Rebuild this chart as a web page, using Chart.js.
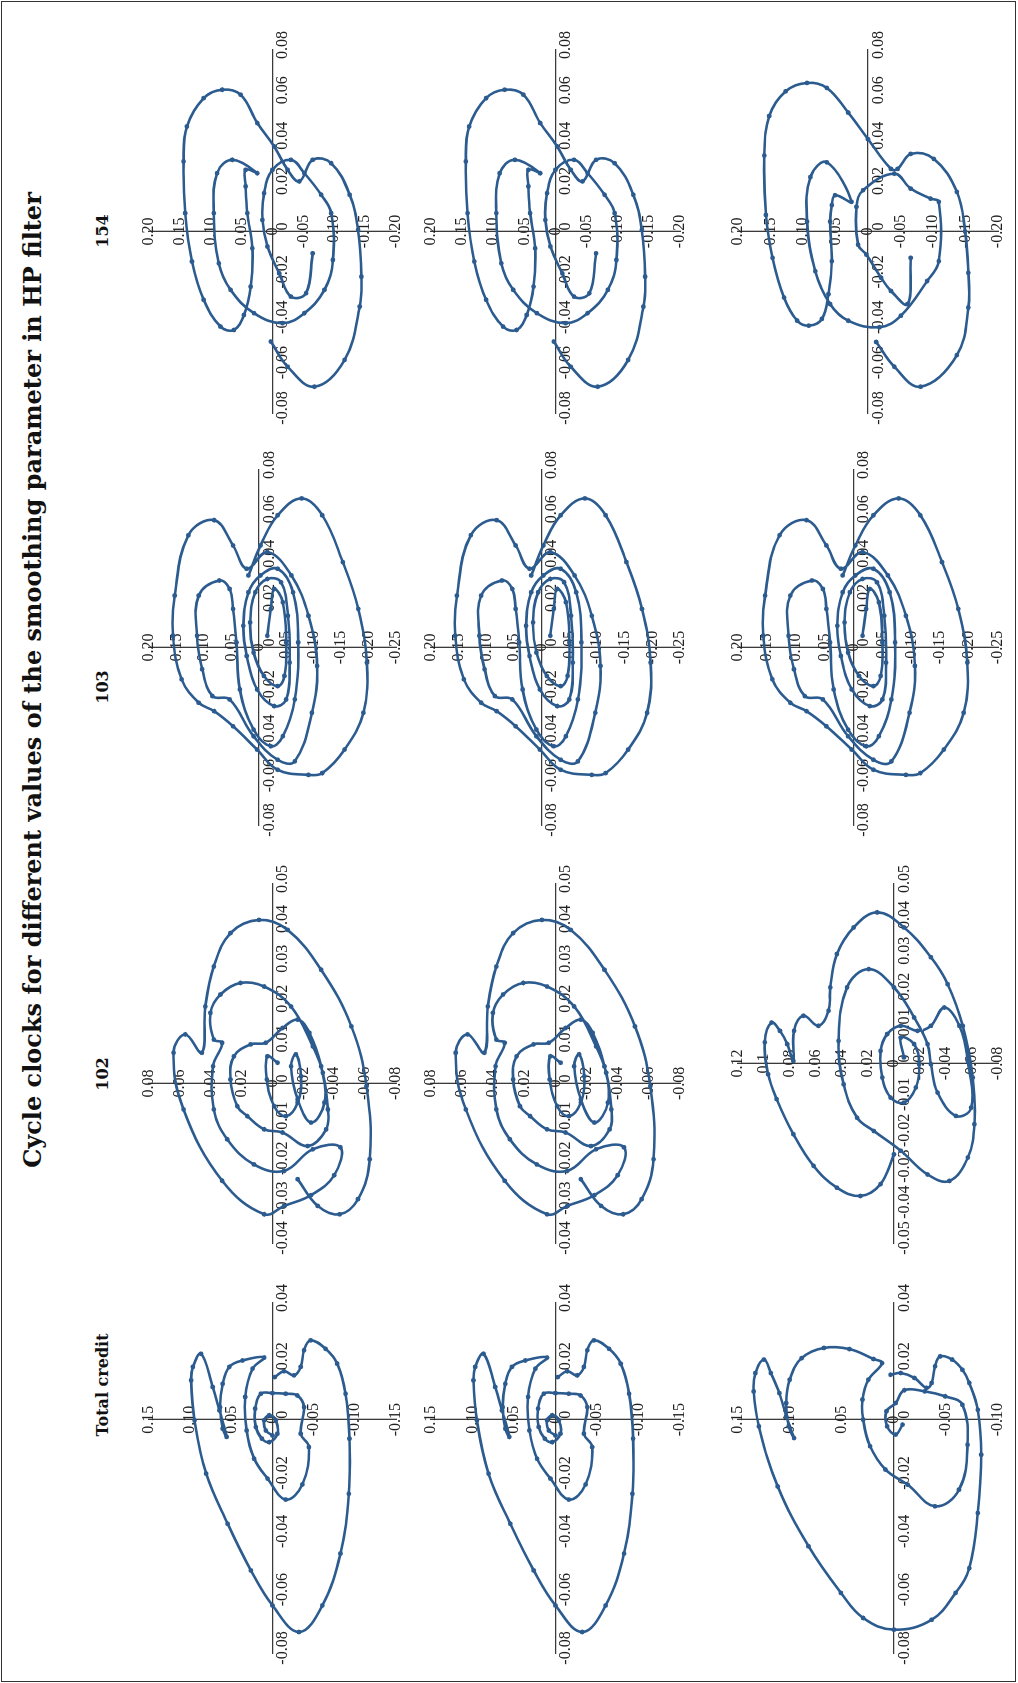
<!DOCTYPE html>
<html>
<head>
<meta charset="utf-8">
<script src="https://cdn.jsdelivr.net/npm/chart.js@4.4.1/dist/chart.umd.min.js"></script>
<style>
  html, body { margin: 0; padding: 0; background: #fff; overflow: hidden; }
  #page {
    position: absolute; left: 0; top: 0;
    width: 1683px; height: 1018px;
    transform-origin: 0 0;
    transform: translateY(1683px) rotate(-90deg);
    font-family: "DejaVu Serif", "Liberation Serif", serif;
    color: #111;
  }
  #frame { position: absolute; left: 1px; top: 1px; width: 1679px; height: 1013px; border: 1px solid #333; }
  .title { position: absolute; font-weight: bold; white-space: nowrap; transform: translate(-50%, -50%); }
  .panel { position: absolute; }
</style>
</head>
<body>
<div id="page">
  <div id="frame"></div>
  <div class="title" style="left:1003px; top:32px; font-size:24px;">Cycle clocks for different values of the smoothing parameter in HP filter</div>
  <div class="title" style="left:298px; top:102px; font-size:16px;">Total credit</div>
  <div class="title" style="left:609px; top:102px; font-size:16px;">102</div>
  <div class="title" style="left:996px; top:102px; font-size:16px;">103</div>
  <div class="title" style="left:1452px; top:102px; font-size:16px;">154</div>
</div>
<script>
// tick labels
const TC_X_TICKS = ['-0.08', '-0.06', '-0.04', '-0.02', '0', '0.02', '0.04'];
const TC_Y_TICKS = ['-0.15', '-0.10', '-0.05', '0', '0.05', '0.10', '0.15'];
const TC_Y_TICKS_3 = ['-0.10', '-0.05', '0', '0.05', '0.10', '0.15'];
const P102_X_TICKS = ['-0.04', '-0.03', '-0.02', '-0.01', '0', '0.01', '0.02', '0.03', '0.04', '0.05'];
const P102_X_TICKS_3 = ['-0.05', '-0.04', '-0.03', '-0.02', '-0.01', '0', '0.01', '0.02', '0.03', '0.04', '0.05'];
const P102_Y_TICKS = ['-0.08', '-0.06', '-0.04', '-0.02', '0', '0.02', '0.04', '0.06', '0.08'];
const P102_Y_TICKS_3 = ['-0.08', '-0.06', '-0.04', '-0.02', '0', '0.02', '0.04', '0.06', '0.08', '0.1', '0.12'];
const P103_X_TICKS = ['-0.08', '-0.06', '-0.04', '-0.02', '0', '0.02', '0.04', '0.06', '0.08'];
const P103_Y_TICKS = ['-0.25', '-0.20', '-0.15', '-0.10', '-0.05', '0', '0.05', '0.10', '0.15', '0.20'];
const P154_X_TICKS = ['-0.08', '-0.06', '-0.04', '-0.02', '0', '0.02', '0.04', '0.06', '0.08'];
const P154_Y_TICKS = ['-0.20', '-0.15', '-0.10', '-0.05', '0', '0.05', '0.10', '0.15', '0.20'];

// cycle clock paths, [x, y]
const totalCredit = [
  [-0.0054, 0], [-0.0037, 0.0081], [-0.0002, 0.0101], [0.0015, 0.0040], [-0.0002, -0.0040],
  [-0.0048, -0.0060], [-0.0077, 0.0040], [-0.0065, 0.0129], [-0.0025, 0.0202], [0.0038, 0.0210],
  [0.0089, 0.0141], [0.0091, 0], [0.0089, -0.0161], [0.0083, -0.0302], [0.0043, -0.0383],
  [-0.0048, -0.0343], [-0.0094, -0.0443], [-0.0222, -0.0363], [-0.0274, -0.0161], [-0.0202, 0.0060],
  [-0.0134, 0.0222], [-0.0037, 0.0314], [0.0078, 0.0331], [0.0175, 0.0242], [0.0213, 0.0101],
  [0.0203, 0.0363], [0.0181, 0.0524], [0.0123, 0.0605], [0.0043, 0.0637], [-0.0031, 0.0605],
  [-0.0059, 0.0556], [0.0032, 0.0645], [0.0112, 0.0726], [0.0226, 0.0867], [0.0181, 0.0967],
  [0.0135, 0.0988], [-0.0002, 0.0947], [-0.0185, 0.0806], [-0.0357, 0.0544], [-0.0517, 0.0262],
  [-0.0637, 0], [-0.0728, -0.0322], [-0.0637, -0.0605], [-0.0459, -0.0826], [-0.0254, -0.0927],
  [-0.0065, -0.0935], [0.0089, -0.0887], [0.0192, -0.0786], [0.0243, -0.0645], [0.0272, -0.0464],
  [0.0238, -0.0383], [0.0181, -0.0343], [0.0152, -0.0262], [0.0166, -0.0141], [0.0146, -0.0028]
];
const totalCredit3 = [
  [-0.0017, -0.0082], [-0.0051, -0.0016], [-0.0023, 0.0066], [0.0029, 0.0072], [0.0057, -0.0016],
  [0.0101, -0.0099], [0.0097, -0.0296], [0.0080, -0.0493], [0.0051, -0.0658], [-0.0086, -0.0707],
  [-0.0240, -0.0625], [-0.0297, -0.0395], [-0.0223, -0.0132], [-0.0171, 0.0082], [-0.0091, 0.0230],
  [0, 0.0296], [0.0069, 0.0303], [0.0137, 0.0247], [0.0194, 0.0115], [0.0208, 0.0197],
  [0.0242, 0.0428], [0.0246, 0.0674], [0.0211, 0.0888], [0.0137, 0.1003], [0.0057, 0.1036],
  [-0.0023, 0.1013], [-0.0063, 0.0961], [0.0011, 0.1036], [0.0091, 0.1102], [0.0160, 0.1184],
  [0.0206, 0.1250], [0.0160, 0.1332], [0.0097, 0.1349], [-0.0023, 0.1299], [-0.0229, 0.1118],
  [-0.0434, 0.0822], [-0.0594, 0.0510], [-0.0680, 0.0296], [-0.0720, 0], [-0.0686, -0.0362],
  [-0.0594, -0.0592], [-0.0509, -0.0724], [-0.0320, -0.0806], [-0.0120, -0.0839], [0.0034, -0.0806],
  [0.0126, -0.0724], [0.0171, -0.0658], [0.0206, -0.0559], [0.0217, -0.0444], [0.0183, -0.0395],
  [0.0126, -0.0362], [0.0109, -0.0313], [0.0143, -0.0197], [0.0160, -0.0066], [0.0154, 0.0033]
];
const hp102 = [
  [0.0052, -0.0033], [0.0068, 0.0033], [0.0010, 0.0037], [-0.0057, -0.0011], [-0.0082, -0.0087],
  [-0.0048, -0.0163], [0.0018, -0.0185], [0.0073, -0.0152], [0.0043, -0.0120], [-0.0040, -0.0163],
  [-0.0098, -0.0250], [-0.0048, -0.0337], [0.0043, -0.0315], [0.0127, -0.0239], [0.0160, -0.0163],
  [0.0139, -0.0065], [0.0102, 0.0043], [0.0098, 0.0141], [0.0068, 0.0250], [0.0010, 0.0272],
  [-0.0057, 0.0228], [-0.0082, 0.0163], [-0.0115, 0.0054], [-0.0123, -0.0065], [-0.0157, -0.0228],
  [-0.0115, -0.0348], [-0.0065, -0.0359], [0.0027, -0.0326], [0.0093, -0.0261], [0.0193, -0.0120],
  [0.0243, 0.0054], [0.0252, 0.0207], [0.0223, 0.0337], [0.0177, 0.0402], [0.0110, 0.0380],
  [0.0102, 0.0326], [0.0043, 0.0385], [-0.0065, 0.0380], [-0.0140, 0.0293], [-0.0203, 0.0120],
  [-0.0219, -0.0076], [-0.0165, -0.0261], [-0.0160, -0.0440], [-0.0230, -0.0400], [-0.0280, -0.0250],
  [-0.0307, -0.0076], [-0.0328, 0.0054], [-0.0244, 0.0326], [-0.0065, 0.0576], [0.0077, 0.0641],
  [0.0123, 0.0565], [0.0077, 0.0457], [0.0193, 0.0435], [0.0293, 0.0380], [0.0377, 0.0272],
  [0.0410, 0.0087], [0.0385, -0.0098], [0.0285, -0.0315], [0.0143, -0.0511], [-0.0007, -0.0609],
  [-0.0190, -0.0630], [-0.0290, -0.0554], [-0.0328, -0.0435], [-0.0307, -0.0293], [-0.0240, -0.0163]
];
const hp102r3 = [
  [0.0017, -0.0077], [0.0072, -0.0052], [0.0054, -0.0155], [-0.0002, -0.0194], [-0.0067, -0.0168],
  [-0.0109, -0.0077], [-0.0095, 0.0026], [-0.0039, 0.0090], [0.0035, 0.0103], [0.0082, 0.0052],
  [0.0105, -0.0052], [0.0091, -0.0181], [0.0105, -0.0284], [0.0156, -0.0387], [0.0105, -0.0503],
  [0.0007, -0.0568], [-0.0123, -0.0594], [-0.0146, -0.0477], [-0.0081, -0.0335], [-0.0002, -0.0284],
  [0.0054, -0.0258], [0.0128, -0.0155], [0.0212, 0], [0.0263, 0.0194], [0.0212, 0.0361],
  [0.0063, 0.0426], [-0.0058, 0.0387], [-0.0151, 0.0284], [-0.0188, 0.0155], [-0.0243, -0.0052],
  [-0.0309, -0.0258], [-0.0327, -0.0426], [-0.0262, -0.0568], [-0.0169, -0.0619], [-0.0039, -0.0606],
  [0.0105, -0.0529], [0.0221, -0.0413], [0.0296, -0.0284], [0.0379, -0.0077], [0.0421, 0.0129],
  [0.0379, 0.0310], [0.0305, 0.0439], [0.0212, 0.0490], [0.0147, 0.0503], [0.0105, 0.0581],
  [0.0133, 0.0697], [0.0091, 0.0769], [0.0007, 0.0774], [0.0054, 0.0821], [0.0091, 0.0877],
  [0.0114, 0.0942], [0.0059, 0.0994], [-0.0030, 0.0968], [-0.0099, 0.0903], [-0.0197, 0.0774],
  [-0.0285, 0.0619], [-0.0346, 0.0439], [-0.0369, 0.0258], [-0.0336, 0.0103], [-0.0253, 0]
];
const hp103 = [
  [0.0053, -0.0156], [0.0174, -0.0219], [0.0264, -0.0281], [0.0204, -0.0438], [0.0023, -0.0500],
  [-0.0128, -0.0469], [-0.0174, -0.0344], [-0.0128, -0.0094], [-0.0023, 0.0094], [0.0113, 0.0156],
  [0.0249, 0.0063], [0.0309, -0.0156], [0.0294, -0.0406], [0.0143, -0.0531], [-0.0068, -0.0563],
  [-0.0234, -0.0500], [-0.0264, -0.0281], [-0.0189, 0.0031], [-0.0038, 0.0219], [0.0098, 0.0281],
  [0.0249, 0.0188], [0.0325, -0.0031], [0.0355, -0.0344], [0.0249, -0.0625], [0.0023, -0.0719],
  [-0.0234, -0.0656], [-0.0400, -0.0438], [-0.0445, -0.0219], [-0.0370, 0.0094], [-0.0189, 0.0344],
  [0.0023, 0.0406], [0.0174, 0.0469], [0.0264, 0.0531], [0.0302, 0.0719], [0.0234, 0.1094],
  [0.0053, 0.1125], [-0.0098, 0.1031], [-0.0219, 0.0844], [-0.0234, 0.0531], [-0.0400, 0.0094],
  [-0.0506, -0.0344], [-0.0513, -0.0656], [-0.0294, -0.0969], [-0.0083, -0.1063], [0.0143, -0.0906],
  [0.0325, -0.0594], [0.0430, -0.0156], [0.0355, 0.0219], [0.0460, 0.0469], [0.0574, 0.0813],
  [0.0506, 0.1281], [0.0234, 0.1531], [0.0053, 0.1563], [-0.0143, 0.1406], [-0.0249, 0.1094],
  [-0.0287, 0.0813], [-0.0355, 0.0469], [-0.0460, 0.0031], [-0.0551, -0.0344], [-0.0574, -0.0906],
  [-0.0566, -0.1156], [-0.0460, -0.1563], [-0.0294, -0.1906], [-0.0068, -0.1969], [0.0174, -0.1813],
  [0.0385, -0.1531], [0.0596, -0.1156], [0.0672, -0.0781], [0.0596, -0.0344], [0.0460, -0.0031],
  [0.0325, 0.0188]
];
const hp154 = [
  [-0.0485, 0.0027], [-0.0596, -0.0245], [-0.0684, -0.0679], [-0.0566, -0.1168], [-0.0331, -0.1413],
  [-0.0199, -0.1440], [0.0007, -0.1386], [0.0162, -0.1250], [0.0301, -0.0951], [0.0316, -0.0652],
  [0.0221, -0.0435], [0.0272, -0.0245], [0.0375, -0.0027], [0.0478, 0.0245], [0.0603, 0.0516],
  [0.0625, 0.0815], [0.0588, 0.1114], [0.0463, 0.1386], [0.0309, 0.1440], [0.0081, 0.1413],
  [-0.0132, 0.1304], [-0.0301, 0.1114], [-0.0419, 0.0842], [-0.0434, 0.0625], [-0.0368, 0.0462],
  [-0.0243, 0.0353], [-0.0074, 0.0326], [0.0081, 0.0408], [0.0199, 0.0435], [0.0272, 0.0435],
  [0.0257, 0.0245], [0.0316, 0.0652], [0.0257, 0.0897], [0.0081, 0.0951], [-0.0140, 0.0870],
  [-0.0257, 0.0679], [-0.0360, 0.0299], [-0.0404, -0.0163], [-0.0360, -0.0516], [-0.0257, -0.0842],
  [-0.0125, -0.0978], [0.0081, -0.0951], [0.0162, -0.0788], [0.0257, -0.0516], [0.0316, -0.0299],
  [0.0272, 0], [0.0169, 0.0136], [0.0051, 0.0163], [-0.0066, 0.0082], [-0.0184, -0.0109],
  [-0.0287, -0.0299], [-0.0272, -0.0543], [-0.0096, -0.0652]
];
const hp154r3 = [
  [-0.0487, -0.0127], [-0.0596, -0.0405], [-0.0684, -0.0810], [-0.0545, -0.1367], [-0.0335, -0.1544],
  [-0.0182, -0.1544], [0, -0.1494], [0.0175, -0.1367], [0.0320, -0.1013], [0.0342, -0.0658],
  [0.0276, -0.0456], [0.0276, -0.0354], [0.0407, 0], [0.0524, 0.0304], [0.0633, 0.0633],
  [0.0655, 0.0937], [0.0618, 0.1266], [0.0509, 0.1519], [0.0335, 0.1595], [0.0073, 0.1570],
  [-0.0116, 0.1468], [-0.0291, 0.1291], [-0.0393, 0.1089], [-0.0415, 0.0911], [-0.0385, 0.0709],
  [-0.0276, 0.0608], [-0.0131, 0.0557], [0.0044, 0.0582], [0.0116, 0.0557], [0.0160, 0.0506],
  [0.0131, 0.0253], [0.0305, 0.0633], [0.0240, 0.0886], [0.0044, 0.0937], [-0.0175, 0.0810],
  [-0.0320, 0.0582], [-0.0393, 0.0304], [-0.0422, -0.0177], [-0.0371, -0.0506], [-0.0218, -0.0911],
  [-0.0131, -0.1089], [0.0131, -0.1089], [0.0145, -0.0962], [0.0189, -0.0658], [0.0255, -0.0405],
  [0.0182, 0.0076], [0.0109, 0.0177], [-0.0058, 0.0152], [-0.0102, 0.0025], [-0.0204, -0.0203],
  [-0.0262, -0.0354], [-0.0320, -0.0608], [-0.0116, -0.0658]
];

const LINE = '#2b5b8f';
const AXIS = '#3a3a3a';
const TICK_FONT = { family: '"Liberation Serif", serif', size: 16 };
const PAD = 30;

// plot-area placement (landscape page coordinates)
const COLS = { tc: [30, 380], c102: [440, 799], c103: [858, 1213], c154: [1270, 1633] };
const ROWS = [[149, 396], [431, 680], [738, 998]];

const panels = [
  { col: 'tc', row: 0, data: totalCredit, xt: TC_X_TICKS, yt: TC_Y_TICKS },
  { col: 'tc', row: 1, data: totalCredit, xt: TC_X_TICKS, yt: TC_Y_TICKS },
  { col: 'tc', row: 2, data: totalCredit3, xt: TC_X_TICKS, yt: TC_Y_TICKS_3 },
  { col: 'c102', row: 0, data: hp102, xt: P102_X_TICKS, yt: P102_Y_TICKS },
  { col: 'c102', row: 1, data: hp102, xt: P102_X_TICKS, yt: P102_Y_TICKS },
  { col: 'c102', row: 2, data: hp102r3, xt: P102_X_TICKS_3, yt: P102_Y_TICKS_3 },
  { col: 'c103', row: 0, data: hp103, xt: P103_X_TICKS, yt: P103_Y_TICKS },
  { col: 'c103', row: 1, data: hp103, xt: P103_X_TICKS, yt: P103_Y_TICKS },
  { col: 'c103', row: 2, data: hp103, xt: P103_X_TICKS, yt: P103_Y_TICKS },
  { col: 'c154', row: 0, data: hp154, xt: P154_X_TICKS, yt: P154_Y_TICKS },
  { col: 'c154', row: 1, data: hp154, xt: P154_X_TICKS, yt: P154_Y_TICKS },
  { col: 'c154', row: 2, data: hp154r3, xt: P154_X_TICKS, yt: P154_Y_TICKS }
];

// y tick labels sit centred on the vertical axis line
const yLabels = {
  id: 'yLabels',
  beforeDatasetsDraw(chart, args, opts) {
    const { ctx, scales: { x, y } } = chart;
    const cx = x.getPixelForValue(0);
    ctx.save();
    ctx.font = `${TICK_FONT.size}px ${TICK_FONT.family}`;
    ctx.fillStyle = '#222';
    ctx.textAlign = 'center';
    ctx.textBaseline = 'middle';
    opts.labels.forEach(t => ctx.fillText(t, cx, y.getPixelForValue(Number(t))));
    ctx.restore();
  }
};

const page = document.getElementById('page');

panels.forEach(p => {
  const [x0, x1] = COLS[p.col];
  const [y0, y1] = ROWS[p.row];
  const canvas = document.createElement('canvas');
  canvas.className = 'panel';
  canvas.width = x1 - x0 + 2 * PAD;
  canvas.height = y1 - y0 + 2 * PAD;
  canvas.style.left = (x0 - PAD) + 'px';
  canvas.style.top = (y0 - PAD) + 'px';
  page.appendChild(canvas);

  const xv = p.xt.map(Number);
  const yv = p.yt.map(Number);

  new Chart(canvas, {
    type: 'scatter',
    data: {
      datasets: [{
        data: p.data.map(([x, y]) => ({ x, y })),
        showLine: true,
        tension: 0.4,
        borderColor: LINE,
        borderWidth: 2.6,
        pointRadius: 2.4,
        pointBackgroundColor: LINE,
        pointBorderWidth: 0,
        clip: false
      }]
    },
    options: {
      responsive: false,
      animation: false,
      layout: { padding: PAD },
      plugins: { legend: { display: false }, tooltip: { enabled: false }, yLabels: { labels: p.yt } },
      scales: {
        x: {
          type: 'linear',
          min: xv[0], max: xv[xv.length - 1],
          position: { y: 0 },
          afterBuildTicks: s => { s.ticks = xv.map(v => ({ value: v })); },
          grid: { display: false, drawTicks: false },
          border: { display: true, color: AXIS, width: 1.3 },
          ticks: {
            autoSkip: false, maxRotation: 0, minRotation: 0,
            padding: 1, labelOffset: 5,
            color: '#222', font: TICK_FONT,
            callback: (v, i) => p.xt[i]
          }
        },
        y: {
          type: 'linear',
          min: yv[0], max: yv[yv.length - 1],
          position: { x: 0 },
          grid: { display: false, drawTicks: false },
          border: { display: true, color: AXIS, width: 1.3 },
          ticks: { display: false }
        }
      }
    },
    plugins: [yLabels]
  });
});
</script>
</body>
</html>
